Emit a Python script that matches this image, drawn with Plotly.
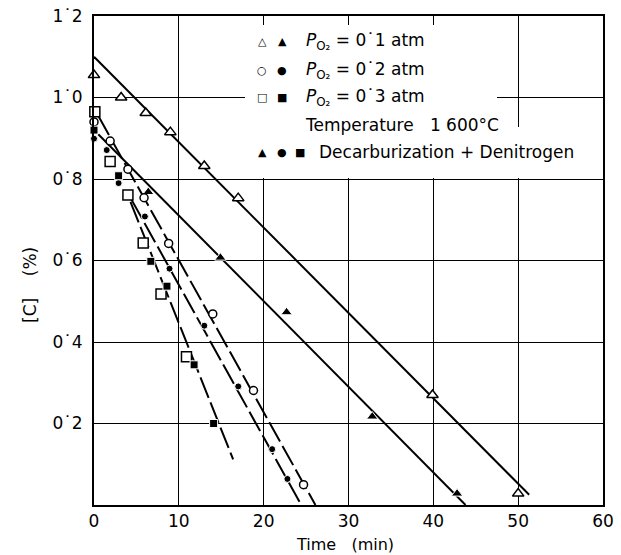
import plotly.graph_objects as go

# ---- data (time in min, [C] in %) ----
open_tri_t = [0, 3.2, 6.1, 9.0, 13.0, 17.0, 39.9, 50.0]
open_tri_c = [1.055, 1.0, 0.962, 0.915, 0.832, 0.753, 0.27, 0.028]

filled_tri_t = [-0.8, 6.4, 14.9, 22.7, 32.8, 42.8]
filled_tri_c = [0.92, 0.768, 0.607, 0.473, 0.217, 0.028]

open_circ_t = [0, 1.9, 4.0, 5.9, 8.8, 14.0, 18.8, 24.7]
open_circ_c = [0.94, 0.893, 0.824, 0.754, 0.642, 0.469, 0.281, 0.05]

filled_circ_t = [0, 1.5, 2.9, 6.0, 8.9, 13.0, 17.0, 21.0, 22.8]
filled_circ_c = [0.899, 0.871, 0.79, 0.708, 0.58, 0.44, 0.291, 0.137, 0.064]

open_sq_t = [0.1, 1.9, 4.0, 5.8, 7.9, 10.9]
open_sq_c = [0.965, 0.843, 0.761, 0.643, 0.518, 0.364]

filled_sq_t = [0, 2.9, 6.7, 8.6, 11.8, 14.1]
filled_sq_c = [0.92, 0.808, 0.598, 0.537, 0.344, 0.2]

# fitted lines (end points)
fit_open_tri_t = [0, 51.3]
fit_open_tri_c = [1.10, 0.025]
fit_filled_tri_t = [0.5, 43.8]
fit_filled_tri_c = [0.91, 0.0]
fit_open_circ_t = [0.5, 26.1]
fit_open_circ_c = [0.955, 0.0]
fit_filled_circ_t = [4.4, 24.3]
fit_filled_circ_c = [0.75, 0.005]
fit_sq_t = [4.3, 16.4]
fit_sq_c = [0.744, 0.112]

x_ticks = [0, 10, 20, 30, 40, 50, 60]
y_ticks = [0.2, 0.4, 0.6, 0.8, 1.0, 1.2]
y_ticktext = ["0˙2", "0˙4", "0˙6", "0˙8", "1˙0", "1˙2"]

FONT = "DejaVu Sans"
fig = go.Figure()

def line(t, c, dash):
    fig.add_trace(go.Scatter(x=t, y=c, mode="lines", cliponaxis=False,
                             line=dict(color="black", width=2, dash=dash),
                             showlegend=False, hoverinfo="skip"))

line(fit_open_tri_t, fit_open_tri_c, "solid")
line(fit_filled_tri_t, fit_filled_tri_c, "solid")
line(fit_open_circ_t, fit_open_circ_c, "22px,5px")
line(fit_filled_circ_t, fit_filled_circ_c, "22px,5px")
line(fit_sq_t, fit_sq_c, "22px,5px")

def pts(t, c, symbol, size, filled):
    if filled:
        mk = dict(symbol=symbol, size=size, color="black",
                  line=dict(color="white", width=1))
    else:
        mk = dict(symbol=symbol, size=size, color="white",
                  line=dict(color="black", width=1.5))
    fig.add_trace(go.Scatter(x=t, y=c, mode="markers", marker=mk, cliponaxis=False,
                             showlegend=False))

pts(open_tri_t, open_tri_c, "triangle-up", 10, False)
pts(filled_tri_t, filled_tri_c, "triangle-up", 10, True)
pts(open_circ_t, open_circ_c, "circle", 8, False)
pts(filled_circ_t, filled_circ_c, "circle", 7, True)
pts(open_sq_t, open_sq_c, "square", 10, False)
pts(filled_sq_t, filled_sq_c, "square", 8, True)

# body margin is removed by the post script, so the figure sits at (0, 0)
W, H = 621, 555
L, R, T, B = 94, 18, 16, 50
pw, ph = W - L - R, H - T - B

def px(x):  # window pixel -> paper
    return (x - L) / pw

def py(y):
    return (H - B - y) / ph

# legend background (hides grid under the key)
fig.add_shape(type="rect", xref="paper", yref="paper", layer="above",
              x0=px(245), x1=px(497), y0=py(178), y1=py(25),
              fillcolor="white", line=dict(width=0))
fig.add_shape(type="rect", xref="paper", yref="paper", layer="above",
              x0=px(497), x1=px(592), y0=py(178), y1=py(127),
              fillcolor="white", line=dict(width=0))

ann = []
def txt(x, y, s, size=15, xanchor="left", angle=0):
    ann.append(dict(x=px(x), y=py(y), xref="paper", yref="paper", text=s,
                    showarrow=False, xanchor=xanchor, yanchor="middle",
                    textangle=angle, font=dict(family=FONT, size=size, color="black")))

rows = [(42, "△", "▲", "0˙1"), (70, "○", "●", "0˙2"), (97, "□", "■", "0˙3")]
for yy, o, f, v in rows:
    txt(262, yy, o, size=11, xanchor="center")
    txt(282, yy, f, size=11, xanchor="center")
    txt(304, yy, "<i>P</i><sub>O₂</sub> = " + v + " atm", size=17)
txt(303, 125, "Temperature   1 600°C", size=17)
txt(262, 152, "▲", size=11, xanchor="center")
txt(282, 152, "●", size=11, xanchor="center")
txt(300, 152, "■", size=11, xanchor="center")
txt(317, 152, "Decarburization + Denitrogen", size=17)

txt(30, 285, "[C]    (%)", size=17, xanchor="center", angle=-90)
txt(345, 544, "Time   (min)", size=16, xanchor="center")

fig.update_layout(
    width=W, height=H, margin=dict(l=L, r=R, t=T, b=B, autoexpand=False),
    paper_bgcolor="white", plot_bgcolor="white",
    font=dict(family=FONT, color="black", size=17),
    annotations=ann, showlegend=False,
    xaxis=dict(range=[0, 60], tickvals=x_ticks, showgrid=True, gridcolor="black",
               gridwidth=1, zeroline=False, showline=True, mirror=True, automargin=False,
               linecolor="black", linewidth=2, ticks="", tickfont=dict(size=17),
               ticklabeloverflow="allow"),
    yaxis=dict(range=[0, 1.2], tickvals=y_ticks, ticktext=y_ticktext, showgrid=True,
               gridcolor="black", gridwidth=1, zeroline=False, showline=True, automargin=False,
               mirror=True, linecolor="black", linewidth=2, ticks="",
               ticklabelstandoff=6, tickfont=dict(size=17), ticklabeloverflow="allow"),
)

fig.write_html("out.html", config={"displayModeBar": False},
               post_script="document.body.style.margin='0px';")
